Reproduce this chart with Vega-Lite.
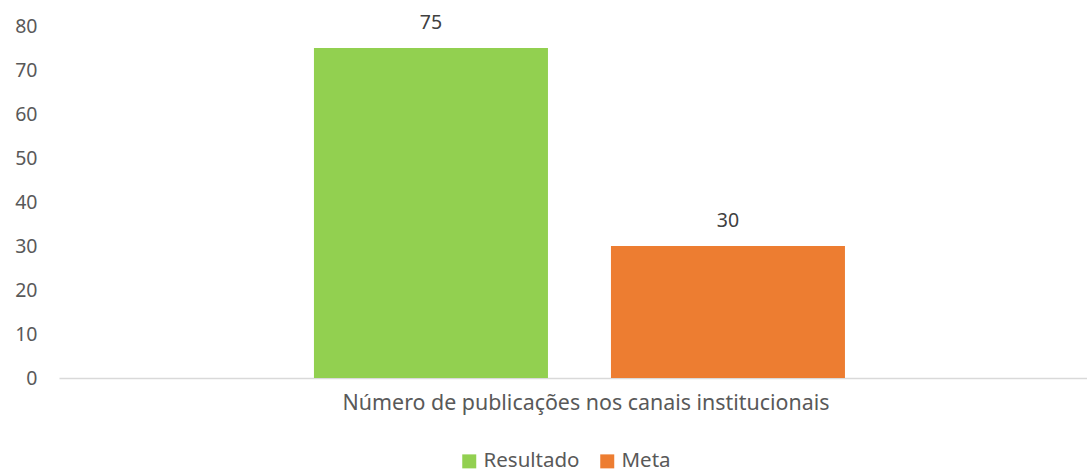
{
  "$schema": "https://vega.github.io/schema/vega-lite/v6.json",
  "width": 1028,
  "height": 352,
  "autosize": {"type": "none"},
  "padding": {"left": 59, "top": 26, "right": 0, "bottom": 93},
  "background": "white",
  "config": {
    "view": {"stroke": null},
    "font": "Noto Sans"
  },
  "data": {
    "values": [
      {"categoria": "Número de publicações nos canais institucionais", "serie": "Resultado", "valor": 75},
      {"categoria": "Número de publicações nos canais institucionais", "serie": "Meta", "valor": 30}
    ]
  },
  "encoding": {
    "x": {
      "field": "categoria", "type": "nominal",
      "scale": {"paddingInner": 0, "paddingOuter": 0},
      "axis": {"title": null, "labelAngle": 0, "ticks": false, "domainColor": "#d9d9d9", "domainWidth": 1.5, "labelPadding": 14, "labelOffset": 13, "labelLimit": 0, "labelFont": "Noto Sans", "labelFontSize": 21.4, "labelColor": "#595959"}
    },
    "xOffset": {
      "field": "serie", "type": "nominal", "sort": ["Resultado", "Meta"],
      "scale": {"paddingInner": 0.2121, "paddingOuter": 0.8367, "align": 0.513}
    },
    "y": {
      "field": "valor", "type": "quantitative",
      "scale": {"domain": [0, 80]},
      "axis": {"title": null, "values": [0,10,20,30,40,50,60,70,80], "labelOverlap": false, "grid": false, "ticks": false, "domain": false, "labelPadding": 22, "labelFont": "Noto Sans", "labelFontSize": 19.5, "labelColor": "#595959"}
    }
  },
  "layer": [
    {
      "mark": {"type": "bar"},
      "encoding": {
        "color": {
          "field": "serie", "type": "nominal",
          "sort": ["Resultado", "Meta"],
          "scale": {"domain": ["Resultado", "Meta"], "range": ["#92D050", "#ED7D31"]},
          "legend": {"title": null, "orient": "none", "legendX": 400, "legendY": 425, "direction": "horizontal", "symbolType": "square", "symbolSize": 196, "symbolStrokeWidth": 0, "symbolOpacity": 1, "labelFontSize": 20.5, "labelColor": "#595959", "labelFont": "Noto Sans", "columnPadding": 17, "labelOffset": 4}
        }
      }
    },
    {
      "mark": {"type": "text", "baseline": "bottom", "dy": -15, "fontSize": 19.5, "color": "#404040", "font": "Noto Sans"},
      "encoding": {"text": {"field": "valor", "type": "quantitative"}}
    }
  ]
}
